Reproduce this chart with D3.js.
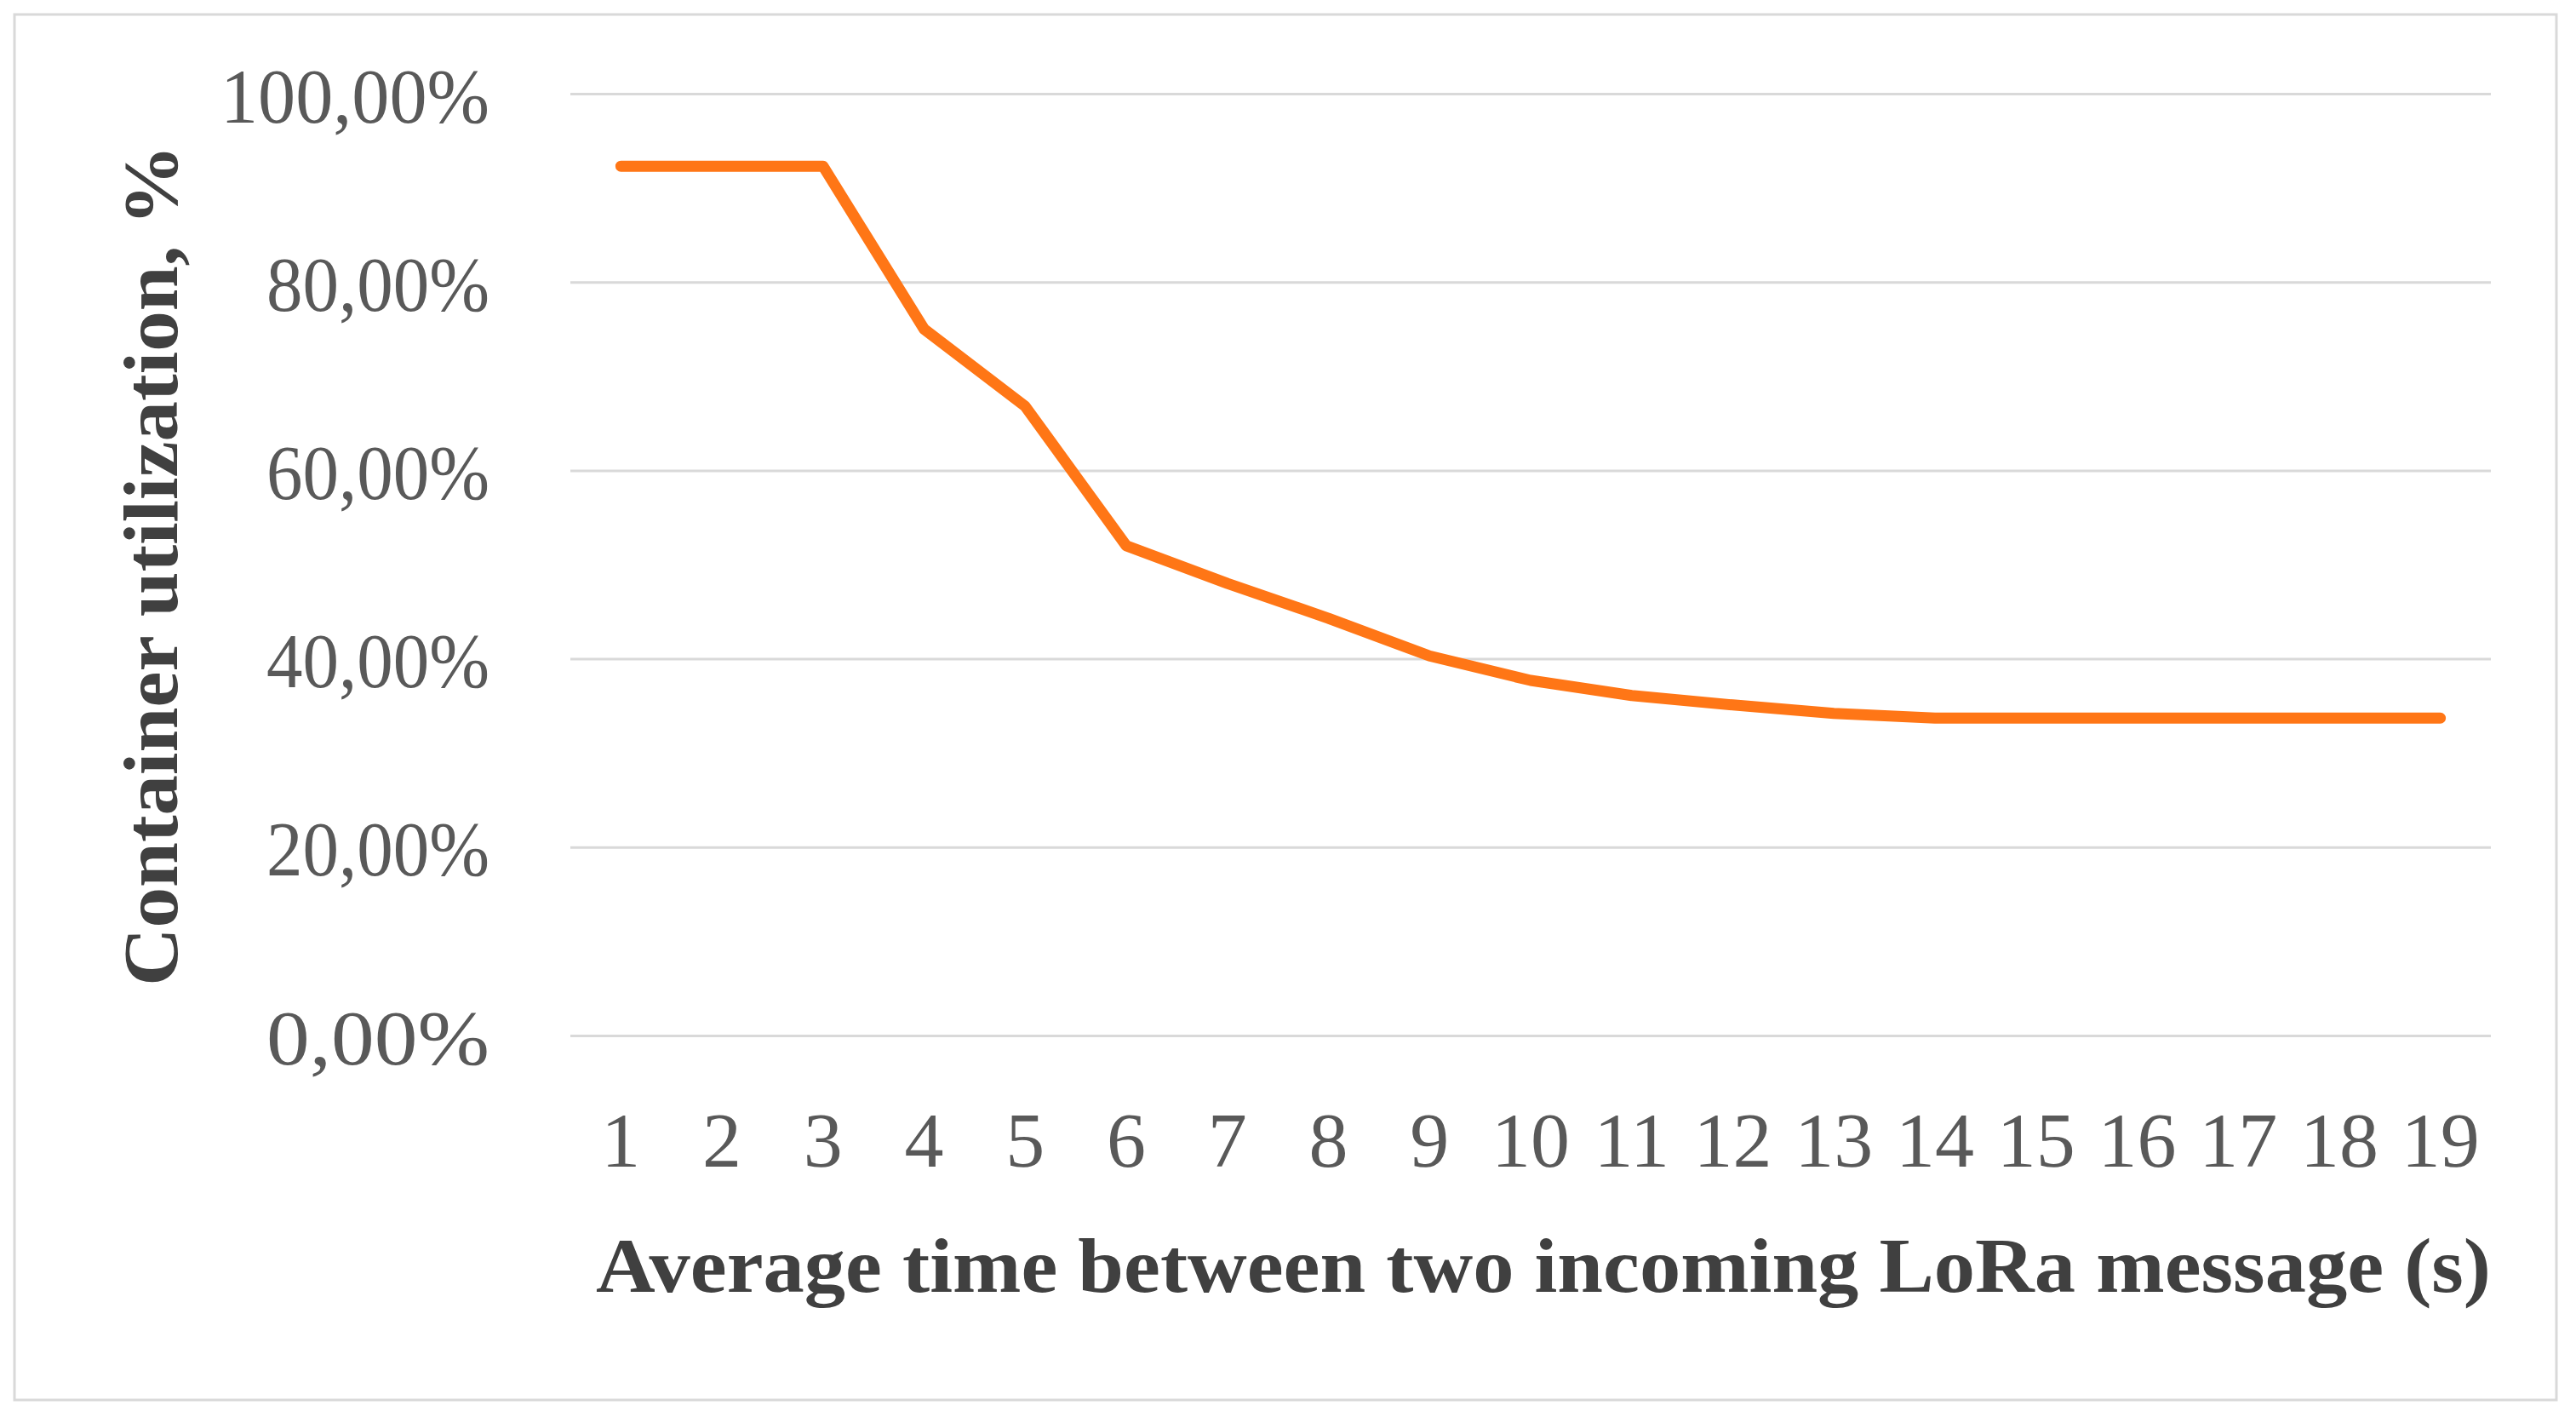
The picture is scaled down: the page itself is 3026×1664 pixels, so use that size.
<!DOCTYPE html>
<html>
<head>
<meta charset="utf-8">
<script src="https://cdn.jsdelivr.net/npm/d3@7"></script>
<style>
  html, body { margin: 0; padding: 0; background: #ffffff; }
  svg { display: block; }
</style>
</head>
<body>
<script>
// ---- Data ----
const categories = [1, 2, 3, 4, 5, 6, 7, 8, 9, 10, 11, 12, 13, 14, 15, 16, 17, 18, 19];
const utilization = [92.3, 92.3, 92.3, 75.0, 66.8, 52.0, 48.0, 44.3, 40.3, 37.7, 36.1, 35.1, 34.2, 33.7, 33.7, 33.7, 33.7, 33.7, 33.7];
const yTicks = [0, 20, 40, 60, 80, 100];
const xTitle = "Average time between two incoming LoRa message (s)";
const yTitle = "Container utilization, %";

// ---- Layout ----
const W = 3026, H = 1664;
const plot = { left: 670, right: 2926, top: 110, bottom: 1216 };

const svg = d3.select("body").append("svg")
  .attr("width", W).attr("height", H);

svg.append("rect")
  .attr("x", 0).attr("y", 0).attr("width", W).attr("height", H)
  .attr("fill", "#ffffff");

// outer frame
svg.append("rect")
  .attr("x", 17).attr("y", 17).attr("width", 2986).attr("height", 1627)
  .attr("fill", "none").attr("stroke", "#d9d9d9").attr("stroke-width", 3);

const x = d3.scaleBand().domain(categories).range([plot.left, plot.right]).padding(0);
const y = d3.scaleLinear().domain([0, 100]).range([plot.bottom, plot.top]);

const fmt = v => d3.format(".2f")(v).replace(".", ",") + "%";
const tickFont = "'Liberation Serif', 'DejaVu Serif', serif";

// Y axis with gridlines
const yAxis = svg.append("g")
  .attr("transform", `translate(${plot.left},0)`)
  .call(d3.axisLeft(y).tickValues(yTicks).tickFormat(fmt)
    .tickSize(-(plot.right - plot.left)).tickPadding(95));
yAxis.select(".domain").remove();
yAxis.selectAll(".tick line").attr("stroke", "#d9d9d9").attr("stroke-width", 3);
yAxis.selectAll(".tick text")
  .attr("font-family", tickFont).attr("font-size", 92)
  .attr("fill", "#595959")
  .attr("lengthAdjust", "spacingAndGlyphs")
  .attr("dy", "0.36em");
yAxis.selectAll(".tick text").each(function(d) {
  const n = fmt(d).length;
  d3.select(this).attr("textLength", n === 7 ? 316 : 262);
});

// X axis
const xAxis = svg.append("g")
  .attr("transform", `translate(0,${plot.bottom})`)
  .call(d3.axisBottom(x).tickSize(0).tickPadding(89));
xAxis.select(".domain").remove();
xAxis.selectAll(".tick text")
  .attr("font-family", tickFont).attr("font-size", 92)
  .attr("fill", "#595959");

// Line
const line = d3.line()
  .x((d, i) => x(categories[i]) + x.bandwidth() / 2)
  .y(d => y(d));
svg.append("path")
  .datum(utilization)
  .attr("d", line)
  .attr("fill", "none")
  .attr("stroke", "#ff7616")
  .attr("stroke-width", 13)
  .attr("stroke-linejoin", "round")
  .attr("stroke-linecap", "round");

// Axis titles
svg.append("text")
  .attr("x", 1813).attr("y", 1517)
  .attr("text-anchor", "middle")
  .attr("font-family", tickFont).attr("font-weight", "bold")
  .attr("font-size", 92).attr("fill", "#404040")
  .attr("textLength", 2226).attr("lengthAdjust", "spacingAndGlyphs")
  .text(xTitle);

svg.append("text")
  .attr("transform", `translate(208,664) rotate(-90)`)
  .attr("text-anchor", "middle")
  .attr("font-family", tickFont).attr("font-weight", "bold")
  .attr("font-size", 92).attr("fill", "#404040")
  .attr("textLength", 988).attr("lengthAdjust", "spacingAndGlyphs")
  .text(yTitle);
</script>
</body>
</html>
